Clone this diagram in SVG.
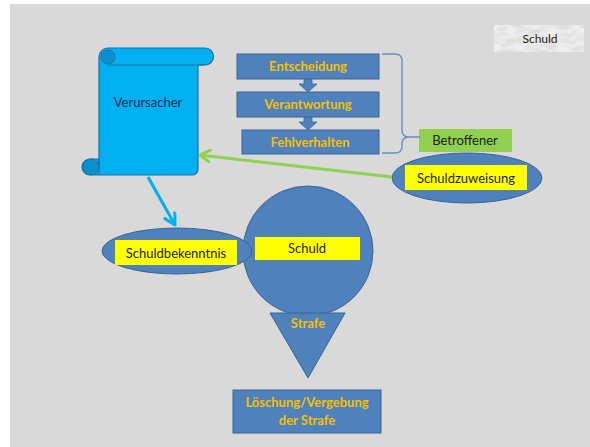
<svg xmlns="http://www.w3.org/2000/svg" width="590" height="447" viewBox="0 0 590 447">
  <defs>
    <style>
      .bx { fill: #4f81bd; stroke: #3a6496; stroke-width: 1; }
      .ot { font-family: Lato, "Open Sans", sans-serif; font-size: 13px; font-weight: bold; fill: #f5c000; text-anchor: middle; }
      .dt { font-family: Lato, "Open Sans", sans-serif; font-size: 13px; fill: #1a1a1a; text-anchor: middle; }
      .yl { fill: #ffff00; }
    </style>
    <filter id="marble" x="0" y="0" width="1" height="1">
      <feTurbulence type="fractalNoise" baseFrequency="0.07 0.18" numOctaves="3" seed="7" result="n"/>
      <feColorMatrix in="n" type="matrix" values="0 0 0 0 0.72  0 0 0 0 0.72  0 0 0 0 0.72  0 0 0 -2.6 1.65" result="m"/>
      <feComposite in="m" in2="SourceGraphic" operator="in"/>
    </filter>
    <marker id="ahGreen" markerWidth="14" markerHeight="14" refX="11" refY="7" orient="auto" markerUnits="userSpaceOnUse">
      <path d="M1,1 L11,7 L1,13" fill="none" stroke="#92d050" stroke-width="3" stroke-linecap="round" stroke-linejoin="round"/>
    </marker>
    <marker id="ahBlue" markerWidth="14" markerHeight="14" refX="12" refY="7" orient="auto" markerUnits="userSpaceOnUse">
      <path d="M1,1 L12,7 L1,13" fill="none" stroke="#00b0f0" stroke-width="3" stroke-linecap="round" stroke-linejoin="round"/>
    </marker>
  </defs>

  <!-- slide background -->
  <rect x="0" y="0" width="590" height="447" fill="#ffffff"/>
  <rect x="10" y="4" width="580" height="443" fill="#d9d9d9"/>

  <!-- title tag, top right -->
  <g id="title">
    <rect x="494" y="25" width="90" height="27" fill="#eeeeee"/>
    <rect x="494" y="25" width="90" height="27" fill="#ffffff" filter="url(#marble)"/>
    <text x="540" y="43" class="dt" style="font-size:12px">Schuld</text>
  </g>

  <!-- scroll -->
  <g id="verursacher">
    <path d="M99,166 L99,57 A9,9 0 0 1 108,48 L205,48 A8.5,8.5 0 0 1 205,65 L198,65 L198,169 A6,6 0 0 1 192,175 L90,175 A8,8 0 0 1 90,159 L99,159 Z" fill="#00b0f0" stroke="#1f6fa8" stroke-width="1.2"/>
    <circle cx="108" cy="57" r="7" fill="#0a8fcf" stroke="#1f6fa8" stroke-width="1"/>
    <path d="M108,65 L205,65" stroke="#1f6fa8" stroke-width="1" fill="none"/>
    <circle cx="91" cy="167" r="8" fill="#0a8fcf" stroke="#1f6fa8" stroke-width="1"/>
    <path d="M99,159 L99,175" stroke="#1f6fa8" stroke-width="1"/>
    <text x="148" y="107" class="dt" style="font-size:13px;fill:#0c2d52">Verursacher</text>
  </g>

  <!-- process chain -->
  <g id="entscheidung">
    <rect x="237" y="54" width="142" height="25" class="bx"/>
    <text x="308" y="71" class="ot">Entscheidung</text>
  </g>
  <g id="verantwortung">
    <rect x="237" y="92" width="142" height="25" class="bx"/>
    <text x="308" y="109" class="ot">Verantwortung</text>
  </g>
  <g id="fehlverhalten">
    <rect x="242" y="130" width="137" height="24" class="bx"/>
    <text x="310" y="147" class="ot">Fehlverhalten</text>
  </g>

  <g id="betroffener">
    <rect x="419" y="129" width="93" height="23" fill="#92d050"/>
    <text x="465" y="145" class="dt">Betroffener</text>
  </g>

  <g id="schuldzuweisung">
    <ellipse cx="467" cy="178" rx="75" ry="25" fill="#4f81bd" stroke="#3a6496" stroke-width="1"/>
    <rect x="405" y="165" width="122" height="25" class="yl"/>
    <text x="466" y="183" class="dt">Schuldzuweisung</text>
  </g>

  <g id="schuld">
    <circle cx="308" cy="251" r="65" fill="#4f81bd" stroke="#3a6496" stroke-width="1"/>
    <rect x="255" y="237" width="105" height="23" class="yl"/>
    <text x="307" y="253" class="dt">Schuld</text>
  </g>

  <g id="schuldbekenntnis">
    <ellipse cx="177" cy="251" rx="75" ry="23" fill="#4f81bd" stroke="#3a6496" stroke-width="1"/>
    <rect x="115" y="240" width="122" height="25" class="yl"/>
    <text x="176" y="258" class="dt">Schuldbekenntnis</text>
  </g>

  <g id="strafe">
    <path d="M270,313 L345,313 L308,378 Z" fill="#4f81bd" stroke="#3a6496" stroke-width="1"/>
    <text x="308" y="328" class="ot">Strafe</text>
  </g>

  <g id="loeschung">
    <rect x="233" y="390" width="148" height="43" class="bx"/>
    <text x="307" y="407" class="ot">Löschung/Vergebung</text>
    <text x="307" y="425" class="ot">der Strafe</text>
  </g>

  <!-- connectors -->
  <g id="connectors">
    <!-- block arrows between process steps -->
    <path d="M304,79 L312,79 L312,84 L317,84 L308,92 L299,84 L304,84 Z" fill="#4f81bd" stroke="#3a6496" stroke-width="0.8"/>
    <path d="M304,117 L312,117 L312,122 L317,122 L308,130 L299,122 L304,122 Z" fill="#4f81bd" stroke="#3a6496" stroke-width="0.8"/>
    <!-- curly bracket -->
    <path d="M382,54 L395,54 Q402,54 402,61 L402,130 Q402,137 409,137 L420,137 M409,137 Q402,137 402,144 L402,146 Q402,153 395,153 L382,153" fill="none" stroke="#6b8fc4" stroke-width="1.4"/>
    <!-- Schuldzuweisung to Verursacher -->
    <line x1="392" y1="177" x2="200" y2="155" stroke="#92d050" stroke-width="3" marker-end="url(#ahGreen)"/>
    <!-- Verursacher to Schuldbekenntnis -->
    <line x1="148" y1="177" x2="175" y2="225" stroke="#00b0f0" stroke-width="3" marker-end="url(#ahBlue)"/>
  </g>
</svg>
